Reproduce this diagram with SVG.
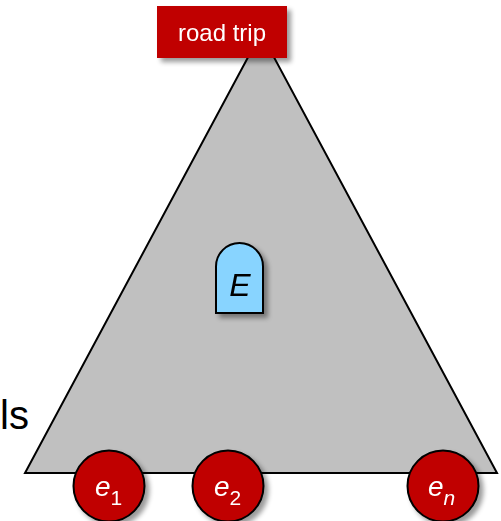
<svg xmlns="http://www.w3.org/2000/svg" width="501" height="521" viewBox="0 0 501 521">
<defs>
<filter id="sh" x="-30%" y="-30%" width="170%" height="170%">
<feGaussianBlur in="SourceAlpha" stdDeviation="2.5"/>
<feOffset dx="4" dy="4" result="b"/>
<feComponentTransfer><feFuncA type="linear" slope="0.4"/></feComponentTransfer>
<feMerge><feMergeNode/><feMergeNode in="SourceGraphic"/></feMerge>
</filter>
<style>
.lbl{font-family:"Liberation Sans",Arial,sans-serif;fill:#fff}
.ent{fill:#c00000;stroke:#000;stroke-width:2}
.et{font-family:"Liberation Sans",Arial,sans-serif;fill:#fff;font-size:28px;font-style:italic}
.sub{font-size:21px;font-style:normal}
.it{font-style:italic}
</style>
</defs>
<rect width="501" height="521" fill="#fff"/>
<g id="triangle">
<polygon points="261,33 25,473 497,473" fill="#c0c0c0" stroke="#000" stroke-width="2" stroke-linejoin="miter"/>
</g>
<g id="side-text">
<text x="0" y="429" font-family="Liberation Sans, Arial, sans-serif" font-size="40" fill="#000">ls</text>
</g>
<g id="road-trip" filter="url(#sh)">
<rect x="157" y="6" width="130" height="52" fill="#c00000"/>
<text class="lbl" x="222" y="41" text-anchor="middle" font-size="24">road trip</text>
</g>
<g id="E" filter="url(#sh)">
<path d="M216,313 L216,266.5 A23.5,23.5 0 0 1 263,266.5 L263,313 Z" fill="#88d4ff" stroke="#000" stroke-width="2"/>
<text x="240" y="296" text-anchor="middle" font-family="Liberation Sans, Arial, sans-serif" font-style="italic" font-size="32" fill="#000">E</text>
</g>
<g id="connectors"></g>
<g id="e1" filter="url(#sh)">
<circle class="ent" cx="109" cy="486" r="35.5"/>
<text class="et" x="95" y="496">e<tspan class="sub" dy="9">1</tspan></text>
</g>
<g id="e2" filter="url(#sh)">
<circle class="ent" cx="228" cy="486" r="35.5"/>
<text class="et" x="214" y="496">e<tspan class="sub" dy="9">2</tspan></text>
</g>
<g id="en" filter="url(#sh)">
<circle class="ent" cx="443" cy="486" r="35.5"/>
<text class="et" x="428" y="496">e<tspan class="sub it" dy="9">n</tspan></text>
</g>
</svg>
